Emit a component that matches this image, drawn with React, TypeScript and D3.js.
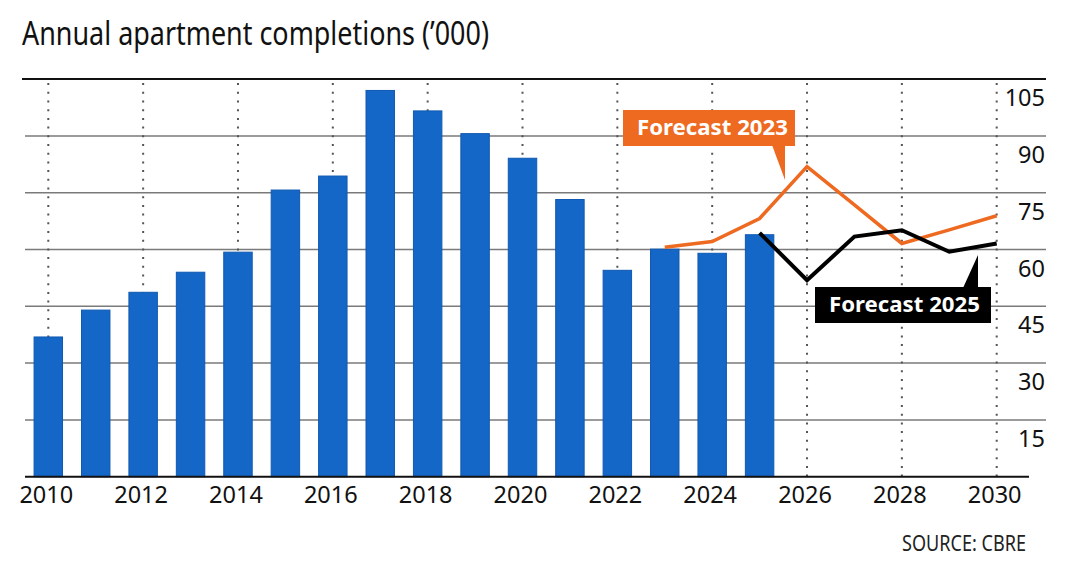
import React from "react";
import * as d3 from "d3";

// Annual apartment completions ('000), actuals
const barYears = [2010, 2011, 2012, 2013, 2014, 2015, 2016, 2017, 2018, 2019, 2020, 2021, 2022, 2023, 2024, 2025];
const barValues = [36.9, 44.0, 48.7, 54.0, 59.3, 75.7, 79.4, 102.0, 96.6, 90.6, 84.1, 73.2, 54.5, 60.1, 59.0, 63.9];

// Forecast made in 2023
const forecast2023Years = [2023, 2024, 2025, 2026, 2027, 2028, 2029, 2030];
const forecast2023Values = [60.6, 62.1, 68.2, 81.9, 71.8, 61.6, 65.2, 68.9];

// Forecast made in 2025
const forecast2025Years = [2025, 2026, 2027, 2028, 2029, 2030];
const forecast2025Values = [64.4, 51.9, 63.4, 65.1, 59.4, 61.6];

const xTickYears = [2010, 2012, 2014, 2016, 2018, 2020, 2022, 2024, 2026, 2028, 2030];
const yTickValues = [15, 30, 45, 60, 75, 90, 105];

const W = 1080;
const H = 586;
const FONT = "'Noto Sans', 'Open Sans', sans-serif";
const BLUE = "#1467c7";
const ORANGE = "#ee6a21";

export default function App() {
  const x = d3.scaleLinear().domain([2010, 2030]).range([48.3, 996.7]);
  const y = d3.scaleLinear().domain([0, 105]).range([476.7, 79.1]);
  const step = x(2011) - x(2010);
  const barW = step * 0.6;

  const line = d3
    .line<[number, number]>()
    .x((d) => x(d[0]))
    .y((d) => y(d[1]))
    .curve(d3.curveLinear);

  const f23 = forecast2023Years.map((yr, i) => [yr, forecast2023Values[i]] as [number, number]);
  const f25 = forecast2025Years.map((yr, i) => [yr, forecast2025Values[i]] as [number, number]);

  const gridLeft = 25;
  const gridRight = 1046;

  return (
    <svg
      width={W}
      height={H}
      viewBox={`0 0 ${W} ${H}`}
      style={{ position: "absolute", left: 0, top: 0, background: "#fff" }}
    >
      {/* title */}
      <text
        x={22}
        y={45}
        fontFamily={FONT}
        fontSize={33}
        fill="#111"
        textLength={467}
        lengthAdjust="spacingAndGlyphs"
      >
        Annual apartment completions (’000)
      </text>

      {/* horizontal gridlines */}
      {yTickValues
        .filter((v) => v < 105)
        .map((v) => (
          <line key={v} x1={gridLeft} x2={gridRight} y1={y(v)} y2={y(v)} stroke="#7a7a7a" strokeWidth={1.5} />
        ))}

      {/* dotted year guides */}
      {xTickYears.map((yr) => (
        <line
          key={yr}
          x1={x(yr)}
          x2={x(yr)}
          y1={y(105) + 4}
          y2={y(0)}
          stroke="#555"
          strokeWidth={2}
          strokeDasharray="2 6.7"
        />
      ))}

      {/* top rule */}
      <line x1={22} x2={gridRight} y1={y(105)} y2={y(105)} stroke="#111" strokeWidth={2} />

      {/* bars */}
      {barYears.map((yr, i) => (
        <rect
          key={yr}
          x={x(yr) - barW / 2}
          y={y(barValues[i])}
          width={barW}
          height={y(0) - y(barValues[i])}
          fill={BLUE}
          stroke="#0f59b0"
          strokeWidth={1}
        />
      ))}

      {/* baseline */}
      <line x1={gridLeft} x2={1029} y1={y(0)} y2={y(0)} stroke="#111" strokeWidth={2} />

      {/* forecast lines */}
      <path d={line(f23) || ""} fill="none" stroke={ORANGE} strokeWidth={3.5} strokeLinejoin="miter" />
      <path d={line(f25) || ""} fill="none" stroke="#000" strokeWidth={4} strokeLinejoin="miter" />

      {/* y tick labels */}
      {yTickValues.map((v) => (
        <text
          key={v}
          x={1045}
          y={y(v) + 27}
          textAnchor="end"
          fontFamily={FONT}
          fontSize={23.5}
          fill="#111"
        >
          {v}
        </text>
      ))}

      {/* x tick labels */}
      {xTickYears.map((yr) => (
        <text
          key={yr}
          x={x(yr) - 2}
          y={503}
          textAnchor="middle"
          fontFamily={FONT}
          fontSize={23.5}
          fill="#111"
        >
          {yr}
        </text>
      ))}

      {/* Forecast 2023 callout */}
      <g>
        <rect x={623} y={110} width={172} height={36} fill={ORANGE} />
        <path d="M772,145 L785,145 L785,180 Z" fill={ORANGE} />
        <text
          x={637}
          y={135}
          fontFamily={FONT}
          fontWeight={700}
          fontSize={22}
          fill="#fff"
          textLength={151}
          lengthAdjust="spacingAndGlyphs"
        >
          Forecast 2023
        </text>
      </g>

      {/* Forecast 2025 callout */}
      <g>
        <rect x={815} y={287} width={176} height={36} fill="#000" />
        <path d="M963,288 L978,288 L978,255 Z" fill="#000" />
        <text
          x={829}
          y={312}
          fontFamily={FONT}
          fontWeight={700}
          fontSize={22}
          fill="#fff"
          textLength={151}
          lengthAdjust="spacingAndGlyphs"
        >
          Forecast 2025
        </text>
      </g>

      {/* source */}
      <text
        x={1026}
        y={551}
        textAnchor="end"
        fontFamily={FONT}
        fontSize={21}
        fill="#222"
        textLength={124}
        lengthAdjust="spacingAndGlyphs"
      >
        SOURCE: CBRE
      </text>
    </svg>
  );
}
